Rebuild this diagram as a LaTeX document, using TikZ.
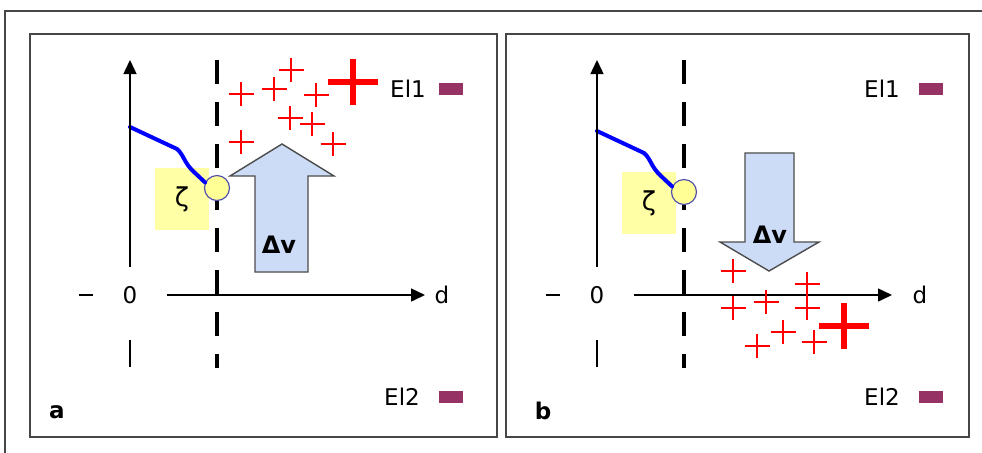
\documentclass[tikz,border=0pt]{standalone}
\usepackage{fontspec}
\setmainfont{DejaVu Sans}
\usetikzlibrary{arrows.meta}

\definecolor{framegray}{RGB}{70,70,70}
\definecolor{zetayellow}{RGB}{255,255,165}
\definecolor{slipyellow}{RGB}{255,255,150}
\definecolor{elpurple}{RGB}{150,50,100}
\definecolor{flowblue}{RGB}{205,220,246}

\begin{document}
\begin{tikzpicture}[
    x=0.5pt, y=-0.5pt,
    every node/.style={font=\fontsize{11.5}{13}\selectfont, inner sep=0pt},
    >={Triangle[length=7pt,width=6.5pt]},
    frame/.style={draw=framegray, line width=1pt},
    axis/.style={line width=0.75pt, ->},
    plane/.style={line width=2.2pt, dash pattern=on 12pt off 9pt},
    potential/.style={blue, line width=2pt, line cap=round, line join=round},
    ion/.style={red, line width=0.7pt},
    bigion/.style={red, line width=2.6pt},
    flow/.style={fill=flowblue, draw=gray!60!black, line width=0.7pt},
    zetabox/.style={fill=zetayellow, minimum width=27pt, minimum height=31pt},
    slip/.style={circle, fill=slipyellow, draw=blue!35!gray, line width=0.6pt, minimum size=12.5pt},
    electrode/.style={fill=elpurple, minimum width=12pt, minimum height=6pt},
]

% Canvas
\clip (0,0) rectangle (982,452);

% === Frames ===
\draw[frame] (5,11) rectangle (995,470);
\draw[frame] (30,34) rectangle (497,437);
\draw[frame] (506,34) rectangle (969,437);

% === Axes, shear plane and zeta potential (same in both panels) ===
\foreach \sx/\sy/\tag in {0/0/a, 467/4/b} {
  \begin{scope}[shift={(\sx,0)}]
    % zeta box and potential curve
    \node[zetabox] (zeta-\tag) at (182,{199+\sy}) {\fontsize{13}{15}\selectfont ζ};
    % shear plane
    \draw[plane] (217,60) -- (217,368);
    \node[slip] (slip-\tag) at (217,{188+\sy}) {};
    \draw[potential] (130,{127+\sy}) -- (177,{149+\sy})
        .. controls (184,{155+\sy}) and (184,{163+\sy}) .. (194,{172+\sy})
        -- (slip-\tag.155);
    % axes
    \draw[axis] (130,267) -- (130,60);
    \draw[line width=0.75pt] (130,340) -- (130,367);
    \draw[line width=0.75pt] (79,295) -- (93,295);
    \node (origin-\tag) at (130,295) {0};
    \draw[axis] (167,295) -- (425,295);
  \end{scope}
}

% === Panel a: ions pushed away from the electrode ===
\draw[flow] (255,272) -- (255,176) -- (230,176) -- (282,144)
    -- (334,176) -- (308,176) -- (308,272) -- cycle;
\node[font=\fontsize{12}{14}\selectfont\bfseries] (dv-a) at (279,245) {Δv};

\foreach \cx/\cy in {241/94, 274/89, 291/70, 316/95, 290/118, 312/124, 241/142, 333/144}
    \draw[ion] ({\cx-12.5},\cy) -- ({\cx+12.5},\cy) (\cx,{\cy-12}) -- (\cx,{\cy+12});
\draw[bigion] (328,82) -- (378,82) (353,59) -- (353,105);

\node (d-a) at (442,295) {d};
\node (el1-a) at (408,89) {El1};
\node[electrode] (el1-mark-a) at (451,89) {};
\node (el2-a) at (402,397) {El2};
\node[electrode] (el2-mark-a) at (451,397) {};
\node[font=\fontsize{11.5}{13}\selectfont\bfseries] (tag-a) at (57,412) {a};

% === Panel b: ions pulled towards the axis ===
\draw[flow] (745,153) -- (745,242) -- (720,242) -- (769,271)
    -- (819,242) -- (794,242) -- (794,153) -- cycle;
\node[font=\fontsize{12}{14}\selectfont\bfseries] (dv-b) at (770,235) {Δv};

\foreach \cx/\cy in {733/271, 807/284, 733/308, 766/302, 807/308, 783/332, 757/346, 814/342}
    \draw[ion] ({\cx-12.5},\cy) -- ({\cx+12.5},\cy) (\cx,{\cy-12}) -- (\cx,{\cy+12});
\draw[bigion] (819,326) -- (869,326) (844,303) -- (844,349);

\node (d-b) at (920,295) {d};
\node (el1-b) at (882,89) {El1};
\node[electrode] (el1-mark-b) at (931,89) {};
\node (el2-b) at (882,397) {El2};
\node[electrode] (el2-mark-b) at (931,397) {};
\node[font=\fontsize{11.5}{13}\selectfont\bfseries] (tag-b) at (543,411) {b};

\end{tikzpicture}
\end{document}
